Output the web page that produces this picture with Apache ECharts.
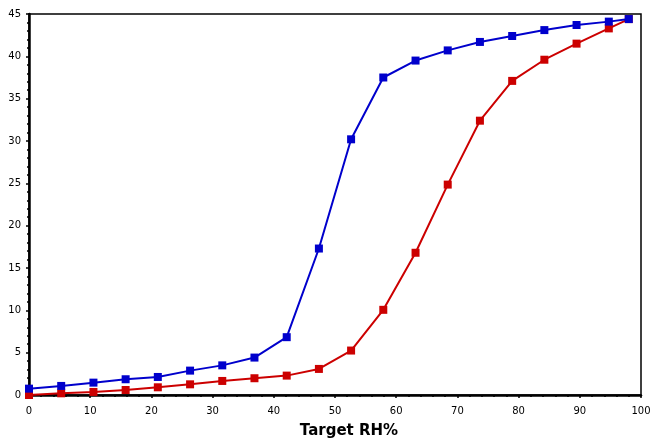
<!DOCTYPE html>
<html>
<head>
<meta charset="utf-8">
<script src="https://cdn.jsdelivr.net/npm/echarts@6/dist/echarts.min.js"></script>
<style>
html, body { margin: 0; padding: 0; background: #fff; }
#chart_container { width: 652px; height: 441px; }
</style>
</head>
<body>
<div id="chart_container"></div>
<script>
// target RH steps (x) and the two curves
var rhValues = [0, 5.26, 10.53, 15.79, 21.05, 26.32, 31.58, 36.84, 42.11, 47.37,
                52.63, 57.89, 63.16, 68.42, 73.68, 78.95, 84.21, 89.47, 94.74, 98];
var blueValues = [0.75, 1.07, 1.46, 1.86, 2.13, 2.88, 3.5, 4.42, 6.83, 17.3,
                  30.2, 37.5, 39.5, 40.7, 41.7, 42.4, 43.1, 43.7, 44.1, 44.4];
var redValues = [0, 0.2, 0.36, 0.59, 0.91, 1.26, 1.66, 1.98, 2.29, 3.08,
                 5.25, 10.06, 16.8, 24.85, 32.4, 37.1, 39.6, 41.5, 43.3, 44.4];

function pairs(xs, ys) {
    var out = [];
    for (var i = 0; i < xs.length; i++) {
        out.push([xs[i], ys[i]]);
    }
    return out;
}

var dom = document.getElementById("chart_container");
var myChart = echarts.init(dom);
var option = null;

var labelStyle = {
    color: '#000',
    fontFamily: 'DejaVu Sans',
    fontSize: 10
};

option = {
    animation: false,
    backgroundColor: '#fff',
    grid: {
        left: 29,
        right: 11,
        top: 14,
        bottom: 46,
        outerBoundsMode: 'none',
        containLabel: false,
        show: true,
        borderColor: '#000',
        borderWidth: 1.5
    },
    xAxis: {
        type: 'value',
        min: 0,
        max: 100,
        interval: 10,
        name: 'Target RH%',
        nameLocation: 'middle',
        nameGap: 29,
        nameTextStyle: {
            color: '#000',
            fontFamily: 'DejaVu Sans',
            fontSize: 15,
            fontWeight: 'bold',
            padding: [0, 0, 0, 28]
        },
        axisLine: { lineStyle: { color: '#000', width: 2.5 } },
        axisTick: { length: 3, lineStyle: { color: '#000', width: 1.5 } },
        minorTick: { show: true, splitNumber: 5, length: 2, lineStyle: { color: '#000', width: 1.5 } },
        axisLabel: Object.assign({ margin: 11 }, labelStyle),
        splitLine: { show: false }
    },
    yAxis: {
        type: 'value',
        min: 0,
        max: 45,
        interval: 5,
        axisLine: { show: true, lineStyle: { color: '#000', width: 2.5 } },
        axisTick: { show: true, length: 3, lineStyle: { color: '#000', width: 1.5 } },
        minorTick: { show: true, splitNumber: 5, length: 2, lineStyle: { color: '#000', width: 1.5 } },
        axisLabel: Object.assign({ margin: 8 }, labelStyle),
        splitLine: { show: false }
    },
    series: [
        {
            name: 'red',
            type: 'line',
            data: pairs(rhValues, redValues),
            symbol: 'rect',
            symbolSize: 8,
            showAllSymbol: true,
            itemStyle: { color: '#cc0000' },
            lineStyle: { color: '#cc0000', width: 2 },
            z: 2
        },
        {
            name: 'blue',
            type: 'line',
            data: pairs(rhValues, blueValues),
            symbol: 'rect',
            symbolSize: 8,
            showAllSymbol: true,
            itemStyle: { color: '#0000cc' },
            lineStyle: { color: '#0000cc', width: 2 },
            z: 3
        }
    ]
};

if (option && typeof option === "object") {
    myChart.setOption(option, true);
}
</script>
</body>
</html>
